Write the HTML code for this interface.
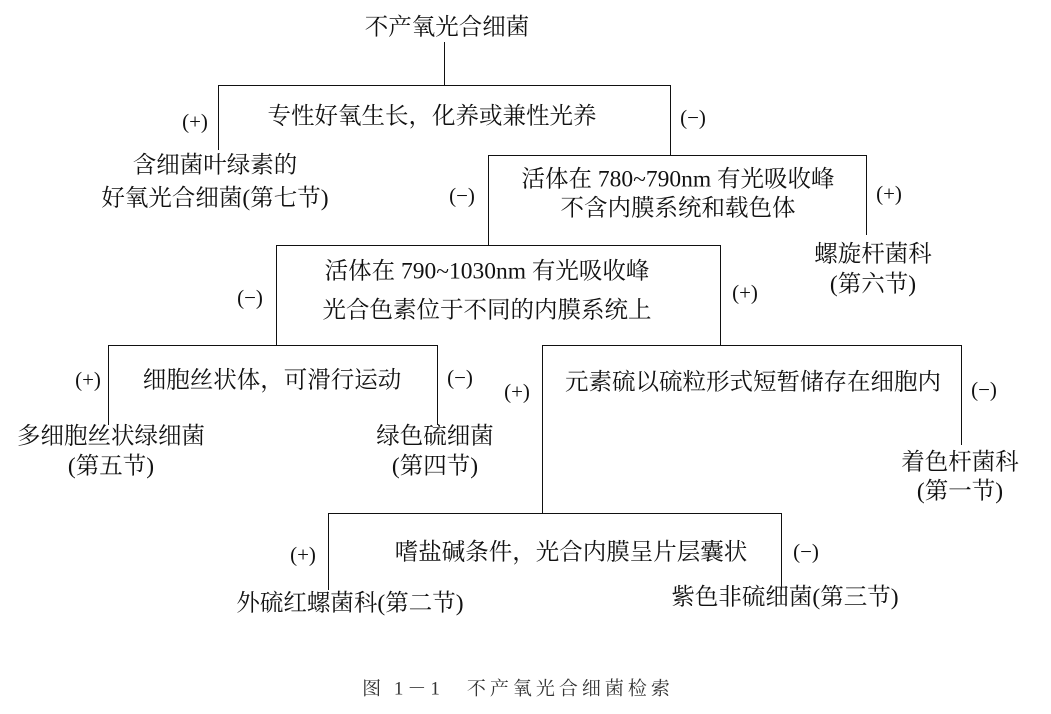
<!DOCTYPE html>
<html><head><meta charset="utf-8"><style>
body{margin:0;width:1051px;height:714px;background:#fff;position:relative;overflow:hidden;font-family:"Liberation Serif","Noto Serif CJK SC",serif;color:#111}
.t{position:absolute;font-size:23.5px;white-space:nowrap;transform:translate(-50%,-50%);line-height:1}
.p{font-size:21px}
.h{position:absolute;height:0;border-top:1.5px solid #111}
.v{position:absolute;width:0;border-left:1.5px solid #111}
</style></head><body>
<div class="t" style="left:447px;top:28px">不产氧光合细菌</div>
<div class="v" style="left:444px;top:42px;height:43px"></div>
<div class="h" style="left:218px;top:85px;width:452px"></div>
<div class="v" style="left:218px;top:85px;height:65px"></div>
<div class="v" style="left:670px;top:85px;height:70px"></div>
<div class="t" style="left:432px;top:117px">专性好氧生长，化养或兼性光养</div>
<div class="t p" style="left:195px;top:122px">(+)</div>
<div class="t p" style="left:693px;top:118px">(−)</div>
<div class="t" style="left:215px;top:166px">含细菌叶绿素的</div>
<div class="t" style="left:215px;top:199px">好氧光合细菌(第七节)</div>

<div class="h" style="left:488px;top:155px;width:378px"></div>
<div class="v" style="left:488px;top:155px;height:90px"></div>
<div class="v" style="left:866px;top:155px;height:80px"></div>
<div class="t" style="left:678px;top:180px">活体在 780~790nm 有光吸收峰</div>
<div class="t" style="left:678px;top:209px">不含内膜系统和载色体</div>
<div class="t p" style="left:462px;top:196px">(−)</div>
<div class="t p" style="left:889px;top:194px">(+)</div>
<div class="t" style="left:873px;top:255px">螺旋杆菌科</div>
<div class="t" style="left:873px;top:285px">(第六节)</div>

<div class="h" style="left:276px;top:245px;width:444px"></div>
<div class="v" style="left:276px;top:245px;height:100px"></div>
<div class="v" style="left:720px;top:245px;height:100px"></div>
<div class="t" style="left:487px;top:272px">活体在 790~1030nm 有光吸收峰</div>
<div class="t" style="left:487px;top:311px">光合色素位于不同的内膜系统上</div>
<div class="t p" style="left:250px;top:298px">(−)</div>
<div class="t p" style="left:745px;top:293px">(+)</div>

<div class="h" style="left:108px;top:345px;width:329px"></div>
<div class="v" style="left:108px;top:345px;height:80px"></div>
<div class="v" style="left:437px;top:345px;height:80px"></div>
<div class="t" style="left:272px;top:381px">细胞丝状体，可滑行运动</div>
<div class="t p" style="left:88px;top:380px">(+)</div>
<div class="t p" style="left:460px;top:378px">(−)</div>
<div class="t" style="left:111px;top:437px">多细胞丝状绿细菌</div>
<div class="t" style="left:111px;top:467px">(第五节)</div>
<div class="t" style="left:435px;top:437px">绿色硫细菌</div>
<div class="t" style="left:435px;top:467px">(第四节)</div>

<div class="h" style="left:542px;top:345px;width:419px"></div>
<div class="v" style="left:542px;top:345px;height:168px"></div>
<div class="v" style="left:961px;top:345px;height:100px"></div>
<div class="t" style="left:753px;top:383px">元素硫以硫粒形式短暂储存在细胞内</div>
<div class="t p" style="left:517px;top:392px">(+)</div>
<div class="t p" style="left:984px;top:390px">(−)</div>
<div class="t" style="left:960px;top:463px">着色杆菌科</div>
<div class="t" style="left:960px;top:492px">(第一节)</div>

<div class="h" style="left:328px;top:513px;width:453px"></div>
<div class="v" style="left:328px;top:513px;height:77px"></div>
<div class="v" style="left:781px;top:513px;height:77px"></div>
<div class="t" style="left:571px;top:553px">嗜盐碱条件，光合内膜呈片层囊状</div>
<div class="t p" style="left:303px;top:555px">(+)</div>
<div class="t p" style="left:806px;top:552px">(−)</div>
<div class="t" style="left:350px;top:604px">外硫红螺菌科(第二节)</div>
<div class="t" style="left:785px;top:598px">紫色非硫细菌(第三节)</div>

<div class="t" style="left:518px;top:689px;font-size:19px;letter-spacing:4px;color:#333">图 1－1　不产氧光合细菌检索</div>
</body></html>
